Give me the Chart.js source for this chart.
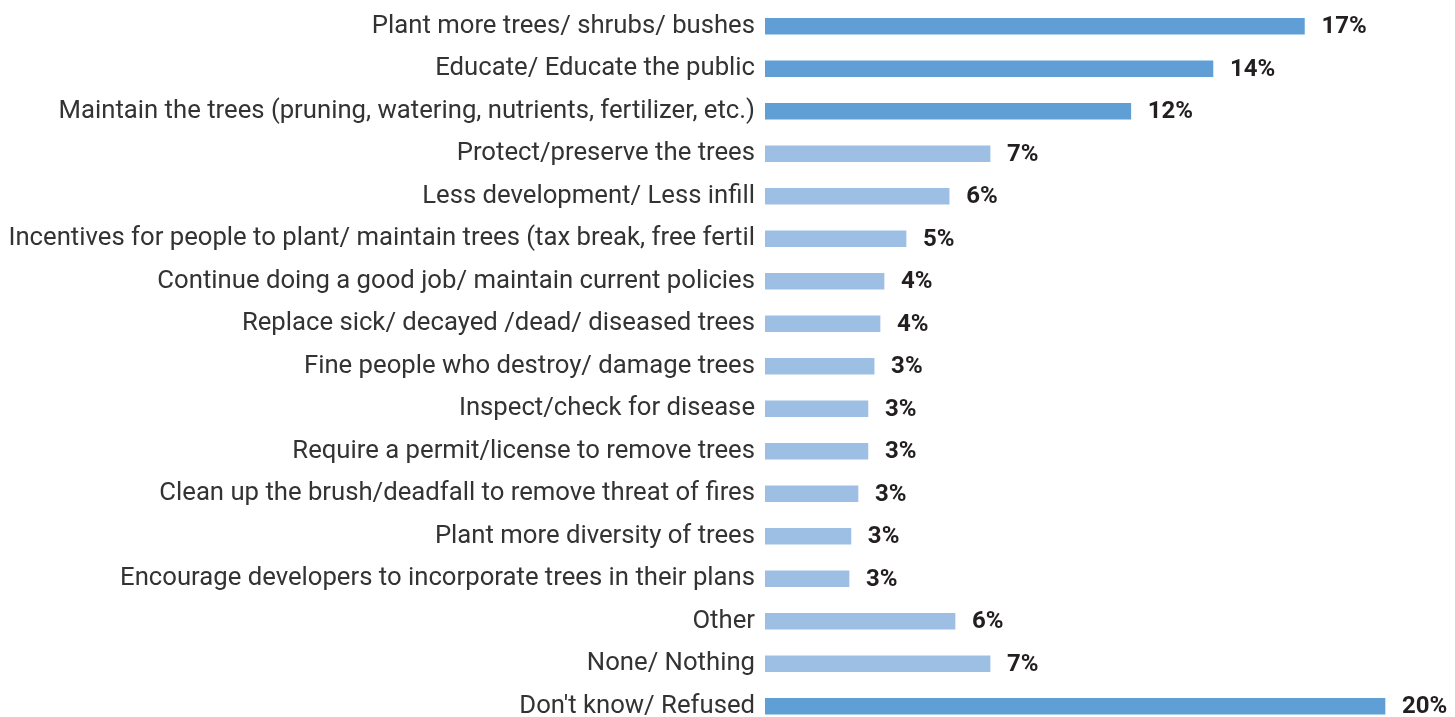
<!DOCTYPE html>
<html>
<head>
<meta charset="utf-8">
<script src="https://cdn.jsdelivr.net/npm/chart.js@4.4.1/dist/chart.umd.min.js"></script>
<style>
  html, body { margin: 0; padding: 0; background: #fff; overflow: hidden; }
  .chart-box { width: 1455px; height: 730px; position: relative; }
</style>
</head>
<body>
<div class="chart-box"><canvas id="treesChart"></canvas></div>
<script>
// Answers (share of respondents, %)
const categories = [
    'Plant more trees/ shrubs/ bushes',
    'Educate/ Educate the public',
    'Maintain the trees (pruning, watering, nutrients, fertilizer, etc.)',
    'Protect/preserve the trees',
    'Less development/ Less infill',
    'Incentives for people to plant/ maintain trees (tax break, free fertil',
    'Continue doing a good job/ maintain current policies',
    'Replace sick/ decayed /dead/ diseased trees',
    'Fine people who destroy/ damage trees',
    'Inspect/check for disease',
    'Require a permit/license to remove trees',
    'Clean up the brush/deadfall to remove threat of fires',
    'Plant more diversity of trees',
    'Encourage developers to incorporate trees in their plans',
    'Other',
    'None/ Nothing',
    'Don\'t know/ Refused'
];
const values = [17.4, 14.45, 11.8, 7.26, 5.94, 4.55, 3.84, 3.71, 3.52, 3.32, 3.32, 3.0, 2.77, 2.71, 6.13, 7.26, 20.0];
const shownLabels = ['17%', '14%', '12%', '7%', '6%', '5%', '4%', '4%', '3%', '3%', '3%', '3%', '3%', '3%', '6%', '7%', '20%'];
const highlighted = [true, true, true, false, false, false, false, false, false, false, false, false, false, false, false, false, true];

const darkBlue = '#5f9fd6';
const lightBlue = '#9dbfe3';
const fontFamily = 'Roboto, "Open Sans", sans-serif';

// Bold percentage next to each bar
const valueLabels = {
    id: 'valueLabels',
    afterDatasetsDraw(chart) {
        const ctx = chart.ctx;
        const meta = chart.getDatasetMeta(0);
        ctx.save();
        ctx.font = 'bold 24px ' + fontFamily;
        ctx.fillStyle = '#231f20';
        ctx.textAlign = 'left';
        ctx.textBaseline = 'middle';
        meta.data.forEach((bar, i) => {
            ctx.fillText(shownLabels[i], bar.x + 17, bar.y + 1);
        });
        ctx.restore();
    }
};

const ctx = document.getElementById('treesChart').getContext('2d');
const treesChart = new Chart(ctx, {
    type: 'bar',
    data: {
        labels: categories,
        datasets: [{
            data: values,
            backgroundColor: highlighted.map(h => h ? darkBlue : lightBlue),
            barThickness: 16,
            borderWidth: 0
        }]
    },
    options: {
        indexAxis: 'y',
        responsive: true,
        maintainAspectRatio: false,
        animation: false,
        layout: { autoPadding: false, padding: { top: 5, bottom: 2.5, right: 8, left: 0 } },
        plugins: {
            legend: { display: false },
            tooltip: { enabled: false }
        },
        scales: {
            x: {
                display: false,
                min: 0,
                max: 22
            },
            y: {
                grid: { display: false, drawTicks: false },
                border: { display: false },
                ticks: {
                    padding: 10,
                    color: '#333',
                    font: { family: fontFamily, size: 25.7 },
                    autoSkip: false
                },
                afterFit(scale) {
                    scale.width = 765;
                    scale.paddingTop = 0;
                    scale.paddingBottom = 0;
                }
            }
        }
    },
    plugins: [valueLabels]
});
</script>
</body>
</html>
